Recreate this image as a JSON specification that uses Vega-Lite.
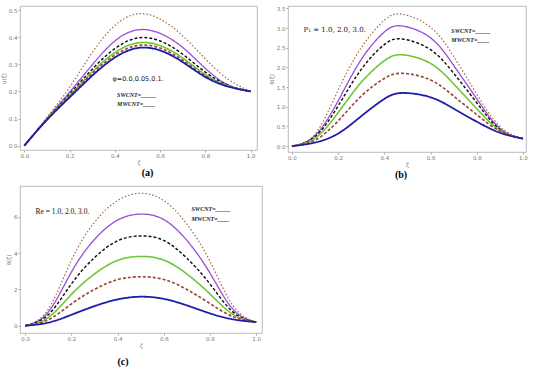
{
"$schema": "https://vega.github.io/schema/vega-lite/v6.json",
"background": "white",
"padding": {"left": 0, "top": 5, "right": 0, "bottom": 0},
"spacing": 4,
"config": {
  "view": {"stroke": "#aaaaaa", "strokeWidth": 0.8},
  "axis": {"labelFontSize": 5.5, "labelColor": "#777777", "labelFont": "DejaVu Sans", "labelOverlap": false, "titleFontSize": 5.5, "titleColor": "#777777", "titleFontWeight": "normal", "titleFont": "DejaVu Sans", "tickColor": "#aaaaaa", "tickSize": 2, "domain": false, "grid": false, "labelPadding": 1, "titlePadding": 2},
  "concat": {"spacing": 10}
},
"datasets": {
"curves": [
{"p":"a","s":"s1","x":0,"y":0},{"p":"a","s":"s1","x":0.1,"y":0.105},{"p":"a","s":"s1","x":0.2,"y":0.215},{"p":"a","s":"s1","x":0.3,"y":0.343},{"p":"a","s":"s1","x":0.4,"y":0.443},{"p":"a","s":"s1","x":0.5,"y":0.486},{"p":"a","s":"s1","x":0.6,"y":0.467},{"p":"a","s":"s1","x":0.7,"y":0.405},{"p":"a","s":"s1","x":0.8,"y":0.32},{"p":"a","s":"s1","x":0.9,"y":0.245},{"p":"a","s":"s1","x":1.0,"y":0.2},
{"p":"a","s":"s2","x":0,"y":0},{"p":"a","s":"s2","x":0.1,"y":0.1},{"p":"a","s":"s2","x":0.2,"y":0.197},{"p":"a","s":"s2","x":0.3,"y":0.298},{"p":"a","s":"s2","x":0.4,"y":0.386},{"p":"a","s":"s2","x":0.5,"y":0.427},{"p":"a","s":"s2","x":0.6,"y":0.414},{"p":"a","s":"s2","x":0.7,"y":0.362},{"p":"a","s":"s2","x":0.8,"y":0.285},{"p":"a","s":"s2","x":0.9,"y":0.224},{"p":"a","s":"s2","x":1.0,"y":0.2},
{"p":"a","s":"s3","x":0,"y":0},{"p":"a","s":"s3","x":0.1,"y":0.098},{"p":"a","s":"s3","x":0.2,"y":0.19},{"p":"a","s":"s3","x":0.3,"y":0.282},{"p":"a","s":"s3","x":0.4,"y":0.358},{"p":"a","s":"s3","x":0.5,"y":0.397},{"p":"a","s":"s3","x":0.6,"y":0.386},{"p":"a","s":"s3","x":0.7,"y":0.337},{"p":"a","s":"s3","x":0.8,"y":0.271},{"p":"a","s":"s3","x":0.9,"y":0.223},{"p":"a","s":"s3","x":1.0,"y":0.2},
{"p":"a","s":"s4","x":0,"y":0},{"p":"a","s":"s4","x":0.1,"y":0.097},{"p":"a","s":"s4","x":0.2,"y":0.185},{"p":"a","s":"s4","x":0.3,"y":0.272},{"p":"a","s":"s4","x":0.4,"y":0.343},{"p":"a","s":"s4","x":0.5,"y":0.379},{"p":"a","s":"s4","x":0.6,"y":0.369},{"p":"a","s":"s4","x":0.7,"y":0.323},{"p":"a","s":"s4","x":0.8,"y":0.262},{"p":"a","s":"s4","x":0.9,"y":0.221},{"p":"a","s":"s4","x":1.0,"y":0.2},
{"p":"a","s":"s5","x":0,"y":0},{"p":"a","s":"s5","x":0.1,"y":0.096},{"p":"a","s":"s5","x":0.2,"y":0.182},{"p":"a","s":"s5","x":0.3,"y":0.266},{"p":"a","s":"s5","x":0.4,"y":0.334},{"p":"a","s":"s5","x":0.5,"y":0.369},{"p":"a","s":"s5","x":0.6,"y":0.36},{"p":"a","s":"s5","x":0.7,"y":0.315},{"p":"a","s":"s5","x":0.8,"y":0.257},{"p":"a","s":"s5","x":0.9,"y":0.219},{"p":"a","s":"s5","x":1.0,"y":0.2},
{"p":"a","s":"s6","x":0,"y":0},{"p":"a","s":"s6","x":0.1,"y":0.095},{"p":"a","s":"s6","x":0.2,"y":0.178},{"p":"a","s":"s6","x":0.3,"y":0.258},{"p":"a","s":"s6","x":0.4,"y":0.325},{"p":"a","s":"s6","x":0.5,"y":0.36},{"p":"a","s":"s6","x":0.6,"y":0.351},{"p":"a","s":"s6","x":0.7,"y":0.308},{"p":"a","s":"s6","x":0.8,"y":0.253},{"p":"a","s":"s6","x":0.9,"y":0.218},{"p":"a","s":"s6","x":1.0,"y":0.2},

{"p":"b","s":"s1","x":0,"y":0},{"p":"b","s":"s1","x":0.1,"y":0.3},{"p":"b","s":"s1","x":0.2,"y":1.42},{"p":"b","s":"s1","x":0.3,"y":2.5},{"p":"b","s":"s1","x":0.4,"y":3.2},{"p":"b","s":"s1","x":0.48,"y":3.35},{"p":"b","s":"s1","x":0.6,"y":3.02},{"p":"b","s":"s1","x":0.7,"y":2.28},{"p":"b","s":"s1","x":0.8,"y":1.32},{"p":"b","s":"s1","x":0.9,"y":0.5},{"p":"b","s":"s1","x":1.0,"y":0.19},
{"p":"b","s":"s2","x":0,"y":0},{"p":"b","s":"s2","x":0.1,"y":0.27},{"p":"b","s":"s2","x":0.2,"y":1.15},{"p":"b","s":"s2","x":0.3,"y":2.2},{"p":"b","s":"s2","x":0.4,"y":2.9},{"p":"b","s":"s2","x":0.48,"y":3.05},{"p":"b","s":"s2","x":0.6,"y":2.75},{"p":"b","s":"s2","x":0.7,"y":2.05},{"p":"b","s":"s2","x":0.8,"y":1.2},{"p":"b","s":"s2","x":0.9,"y":0.45},{"p":"b","s":"s2","x":1.0,"y":0.19},
{"p":"b","s":"s3","x":0,"y":0},{"p":"b","s":"s3","x":0.1,"y":0.24},{"p":"b","s":"s3","x":0.2,"y":1.02},{"p":"b","s":"s3","x":0.3,"y":1.95},{"p":"b","s":"s3","x":0.4,"y":2.58},{"p":"b","s":"s3","x":0.48,"y":2.72},{"p":"b","s":"s3","x":0.6,"y":2.45},{"p":"b","s":"s3","x":0.7,"y":1.85},{"p":"b","s":"s3","x":0.8,"y":1.1},{"p":"b","s":"s3","x":0.9,"y":0.42},{"p":"b","s":"s3","x":1.0,"y":0.19},
{"p":"b","s":"s4","x":0,"y":0},{"p":"b","s":"s4","x":0.1,"y":0.2},{"p":"b","s":"s4","x":0.2,"y":0.85},{"p":"b","s":"s4","x":0.3,"y":1.62},{"p":"b","s":"s4","x":0.4,"y":2.17},{"p":"b","s":"s4","x":0.48,"y":2.32},{"p":"b","s":"s4","x":0.6,"y":2.1},{"p":"b","s":"s4","x":0.7,"y":1.58},{"p":"b","s":"s4","x":0.8,"y":0.95},{"p":"b","s":"s4","x":0.9,"y":0.4},{"p":"b","s":"s4","x":1.0,"y":0.19},
{"p":"b","s":"s5","x":0,"y":0},{"p":"b","s":"s5","x":0.1,"y":0.15},{"p":"b","s":"s5","x":0.2,"y":0.64},{"p":"b","s":"s5","x":0.3,"y":1.27},{"p":"b","s":"s5","x":0.4,"y":1.72},{"p":"b","s":"s5","x":0.48,"y":1.85},{"p":"b","s":"s5","x":0.6,"y":1.68},{"p":"b","s":"s5","x":0.7,"y":1.27},{"p":"b","s":"s5","x":0.8,"y":0.8},{"p":"b","s":"s5","x":0.9,"y":0.38},{"p":"b","s":"s5","x":1.0,"y":0.19},
{"p":"b","s":"s6","x":0,"y":0},{"p":"b","s":"s6","x":0.1,"y":0.09},{"p":"b","s":"s6","x":0.2,"y":0.32},{"p":"b","s":"s6","x":0.3,"y":0.76},{"p":"b","s":"s6","x":0.4,"y":1.2},{"p":"b","s":"s6","x":0.48,"y":1.35},{"p":"b","s":"s6","x":0.6,"y":1.24},{"p":"b","s":"s6","x":0.7,"y":0.95},{"p":"b","s":"s6","x":0.8,"y":0.62},{"p":"b","s":"s6","x":0.9,"y":0.34},{"p":"b","s":"s6","x":1.0,"y":0.19},

{"p":"c","s":"s1","x":0,"y":0},{"p":"c","s":"s1","x":0.1,"y":0.9},{"p":"c","s":"s1","x":0.2,"y":3.6},{"p":"c","s":"s1","x":0.3,"y":5.7},{"p":"c","s":"s1","x":0.4,"y":6.9},{"p":"c","s":"s1","x":0.5,"y":7.3},{"p":"c","s":"s1","x":0.6,"y":6.9},{"p":"c","s":"s1","x":0.7,"y":5.6},{"p":"c","s":"s1","x":0.8,"y":3.55},{"p":"c","s":"s1","x":0.9,"y":1.1},{"p":"c","s":"s1","x":1.0,"y":0.2},
{"p":"c","s":"s2","x":0,"y":0},{"p":"c","s":"s2","x":0.1,"y":0.75},{"p":"c","s":"s2","x":0.2,"y":2.95},{"p":"c","s":"s2","x":0.3,"y":4.75},{"p":"c","s":"s2","x":0.4,"y":5.82},{"p":"c","s":"s2","x":0.5,"y":6.15},{"p":"c","s":"s2","x":0.6,"y":5.85},{"p":"c","s":"s2","x":0.7,"y":4.7},{"p":"c","s":"s2","x":0.8,"y":2.9},{"p":"c","s":"s2","x":0.9,"y":0.9},{"p":"c","s":"s2","x":1.0,"y":0.2},
{"p":"c","s":"s3","x":0,"y":0},{"p":"c","s":"s3","x":0.1,"y":0.6},{"p":"c","s":"s3","x":0.2,"y":2.3},{"p":"c","s":"s3","x":0.3,"y":3.75},{"p":"c","s":"s3","x":0.4,"y":4.68},{"p":"c","s":"s3","x":0.5,"y":4.95},{"p":"c","s":"s3","x":0.6,"y":4.7},{"p":"c","s":"s3","x":0.7,"y":3.72},{"p":"c","s":"s3","x":0.8,"y":2.3},{"p":"c","s":"s3","x":0.9,"y":0.75},{"p":"c","s":"s3","x":1.0,"y":0.2},
{"p":"c","s":"s4","x":0,"y":0},{"p":"c","s":"s4","x":0.1,"y":0.45},{"p":"c","s":"s4","x":0.2,"y":1.72},{"p":"c","s":"s4","x":0.3,"y":2.85},{"p":"c","s":"s4","x":0.4,"y":3.6},{"p":"c","s":"s4","x":0.5,"y":3.82},{"p":"c","s":"s4","x":0.6,"y":3.62},{"p":"c","s":"s4","x":0.7,"y":2.85},{"p":"c","s":"s4","x":0.8,"y":1.75},{"p":"c","s":"s4","x":0.9,"y":0.62},{"p":"c","s":"s4","x":1.0,"y":0.2},
{"p":"c","s":"s5","x":0,"y":0},{"p":"c","s":"s5","x":0.1,"y":0.32},{"p":"c","s":"s5","x":0.2,"y":1.2},{"p":"c","s":"s5","x":0.3,"y":2.0},{"p":"c","s":"s5","x":0.4,"y":2.54},{"p":"c","s":"s5","x":0.5,"y":2.7},{"p":"c","s":"s5","x":0.6,"y":2.55},{"p":"c","s":"s5","x":0.7,"y":2.0},{"p":"c","s":"s5","x":0.8,"y":1.22},{"p":"c","s":"s5","x":0.9,"y":0.5},{"p":"c","s":"s5","x":1.0,"y":0.2},
{"p":"c","s":"s6","x":0,"y":0},{"p":"c","s":"s6","x":0.1,"y":0.17},{"p":"c","s":"s6","x":0.2,"y":0.6},{"p":"c","s":"s6","x":0.3,"y":1.08},{"p":"c","s":"s6","x":0.4,"y":1.45},{"p":"c","s":"s6","x":0.5,"y":1.6},{"p":"c","s":"s6","x":0.6,"y":1.48},{"p":"c","s":"s6","x":0.7,"y":1.12},{"p":"c","s":"s6","x":0.8,"y":0.68},{"p":"c","s":"s6","x":0.9,"y":0.35},{"p":"c","s":"s6","x":1.0,"y":0.2}
],
"notes": [
{"p":"a","k":"param","x":0.39,"y":0.244,"t":"φ=0.0,0.05,0.1."},
{"p":"a","k":"cnt","x":0.41,"y":0.185,"t":"SWCNT=_____"},
{"p":"a","k":"cnt","x":0.41,"y":0.152,"t":"MWCNT=____"},
{"p":"b","k":"param","x":0.05,"y":2.95,"t":"P₁ = 1.0, 2.0, 3.0."},
{"p":"b","k":"cnt","x":0.69,"y":2.92,"t":"SWCNT=_____"},
{"p":"b","k":"cnt","x":0.69,"y":2.7,"t":"MWCNT=____"},
{"p":"c","k":"param","x":0.045,"y":6.25,"t":"Re = 1.0, 2.0, 3.0."},
{"p":"c","k":"cnt","x":0.72,"y":6.45,"t":"SWCNT=_____"},
{"p":"c","k":"cnt","x":0.72,"y":5.9,"t":"MWCNT=____"}
]
},
"vconcat": [
 {"hconcat": [
  {
   "width": 237, "height": 144,
   "title": {"text": "(a)", "orient": "bottom", "fontSize": 10, "font": "Liberation Serif", "fontWeight": "bold", "color": "#000000", "dx": 9, "offset": 2},
   "layer": [
    {"data": {"name": "curves"}, "transform": [{"filter": "datum.p == 'a'"}],
     "mark": {"type": "line", "interpolate": "natural", "clip": true},
     "encoding": {
      "x": {"field": "x", "type": "quantitative", "scale": {"domain": [-0.019, 1.028], "nice": false, "zero": false}, "axis": {"values": [0, 0.2, 0.4, 0.6, 0.8, 1.0], "tickCount": 20, "format": ".1f", "title": "ζ"}},
      "y": {"field": "y", "type": "quantitative", "scale": {"domain": [-0.016, 0.515], "nice": false, "zero": false}, "axis": {"values": [0, 0.1, 0.2, 0.3, 0.4, 0.5], "tickCount": 20, "format": ".1f", "title": "u(ζ)"}},
      "detail": {"field": "s"},
      "color": {"field": "s", "type": "nominal", "legend": null, "scale": {"domain": ["s1","s2","s3","s4","s5","s6"], "range": ["#a8683a","#9a4fd8","#111111","#6cc535","#9a4a3a","#1c1ca8"]}},
      "strokeDash": {"field": "s", "type": "nominal", "legend": null, "scale": {"domain": ["s1","s2","s3","s4","s5","s6"], "range": [[1.5,2],[1,0],[3,2],[1,0],[3,2],[1,0]]}},
      "strokeWidth": {"field": "s", "type": "nominal", "legend": null, "scale": {"domain": ["s1","s2","s3","s4","s5","s6"], "range": [1.2,1.8,1.5,1.8,1.2,1.8]}}
     }},
    {"data": {"name": "notes"}, "transform": [{"filter": "datum.p == 'a' && datum.k == 'param'"}],
     "mark": {"type": "text", "align": "left", "baseline": "middle", "font": "DejaVu Sans", "fontSize": 6.5, "color": "#222222"},
     "encoding": {"x": {"field": "x", "type": "quantitative"}, "y": {"field": "y", "type": "quantitative"}, "text": {"field": "t"}}},
    {"data": {"name": "notes"}, "transform": [{"filter": "datum.p == 'a' && datum.k == 'cnt'"}],
     "mark": {"type": "text", "align": "left", "baseline": "middle", "font": "Liberation Serif", "fontStyle": "italic", "fontWeight": "bold", "fontSize": 6, "color": "#222222"},
     "encoding": {"x": {"field": "x", "type": "quantitative"}, "y": {"field": "y", "type": "quantitative"}, "text": {"field": "t"}}}
   ]
  },
  {
   "width": 238, "height": 146,
   "title": {"text": "(b)", "orient": "bottom", "fontSize": 10, "font": "Liberation Serif", "fontWeight": "bold", "color": "#000000", "dx": -6, "offset": 2},
   "layer": [
    {"data": {"name": "curves"}, "transform": [{"filter": "datum.p == 'b'"}],
     "mark": {"type": "line", "interpolate": "natural", "clip": true},
     "encoding": {
      "x": {"field": "x", "type": "quantitative", "scale": {"domain": [-0.017, 1.013], "nice": false, "zero": false}, "axis": {"values": [0, 0.2, 0.4, 0.6, 0.8, 1.0], "tickCount": 20, "format": ".1f", "title": "ζ"}},
      "y": {"field": "y", "type": "quantitative", "scale": {"domain": [-0.15, 3.56], "nice": false, "zero": false}, "axis": {"values": [0, 0.5, 1, 1.5, 2, 2.5, 3, 3.5], "tickCount": 20, "format": ".1f", "title": "θ(ζ)"}},
      "detail": {"field": "s"},
      "color": {"field": "s", "type": "nominal", "legend": null},
      "strokeDash": {"field": "s", "type": "nominal", "legend": null},
      "strokeWidth": {"field": "s", "type": "nominal", "legend": null}
     }},
    {"data": {"name": "notes"}, "transform": [{"filter": "datum.p == 'b' && datum.k == 'param'"}],
     "mark": {"type": "text", "align": "left", "baseline": "middle", "font": "DejaVu Serif", "fontSize": 7, "color": "#111111"},
     "encoding": {"x": {"field": "x", "type": "quantitative"}, "y": {"field": "y", "type": "quantitative"}, "text": {"field": "t"}}},
    {"data": {"name": "notes"}, "transform": [{"filter": "datum.p == 'b' && datum.k == 'cnt'"}],
     "mark": {"type": "text", "align": "left", "baseline": "middle", "font": "Liberation Serif", "fontStyle": "italic", "fontWeight": "bold", "fontSize": 6, "color": "#222222"},
     "encoding": {"x": {"field": "x", "type": "quantitative"}, "y": {"field": "y", "type": "quantitative"}, "text": {"field": "t"}}}
   ]
  }
 ]},
 {
  "width": 242, "height": 147,
  "title": {"text": "(c)", "orient": "bottom", "fontSize": 10, "font": "Liberation Serif", "fontWeight": "bold", "color": "#000000", "dx": -18, "offset": 8},
  "layer": [
   {"data": {"name": "curves"}, "transform": [{"filter": "datum.p == 'c'"}],
    "mark": {"type": "line", "interpolate": "natural", "clip": true},
    "encoding": {
     "x": {"field": "x", "type": "quantitative", "scale": {"domain": [-0.022, 1.025], "nice": false, "zero": false}, "axis": {"values": [0, 0.2, 0.4, 0.6, 0.8, 1.0], "tickCount": 20, "format": ".1f", "title": "ζ"}},
     "y": {"field": "y", "type": "quantitative", "scale": {"domain": [-0.4, 7.7], "nice": false, "zero": false}, "axis": {"values": [0, 2, 4, 6], "tickCount": 20, "format": "d", "title": "θ(ζ)"}},
     "detail": {"field": "s"},
     "color": {"field": "s", "type": "nominal", "legend": null},
     "strokeDash": {"field": "s", "type": "nominal", "legend": null},
     "strokeWidth": {"field": "s", "type": "nominal", "legend": null}
    }},
   {"data": {"name": "notes"}, "transform": [{"filter": "datum.p == 'c' && datum.k == 'param'"}],
    "mark": {"type": "text", "align": "left", "baseline": "middle", "font": "Liberation Serif", "fontSize": 7.5, "color": "#111111"},
    "encoding": {"x": {"field": "x", "type": "quantitative"}, "y": {"field": "y", "type": "quantitative"}, "text": {"field": "t"}}},
   {"data": {"name": "notes"}, "transform": [{"filter": "datum.p == 'c' && datum.k == 'cnt'"}],
    "mark": {"type": "text", "align": "left", "baseline": "middle", "font": "Liberation Serif", "fontStyle": "italic", "fontWeight": "bold", "fontSize": 6, "color": "#222222"},
    "encoding": {"x": {"field": "x", "type": "quantitative"}, "y": {"field": "y", "type": "quantitative"}, "text": {"field": "t"}}}
  ]
 }
]
}
